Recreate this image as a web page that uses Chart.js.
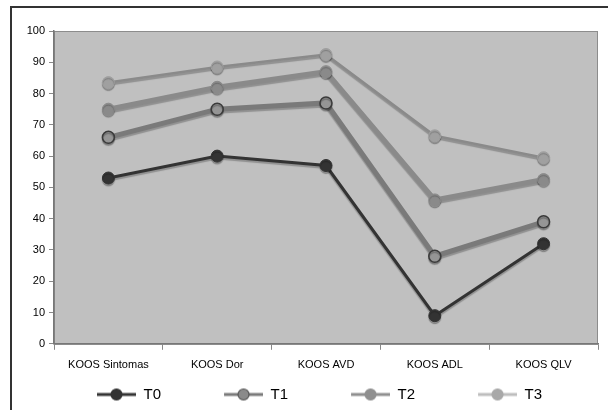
<!DOCTYPE html>
<html>
<head>
<meta charset="utf-8">
<script src="https://cdn.jsdelivr.net/npm/chart.js@4"></script>
<style>
html,body{margin:0;padding:0;background:#fff;}
#wrap{width:608px;height:410px;}
</style>
</head>
<body>
<div id="wrap"><canvas id="c" width="608" height="410"></canvas></div>
<script>
const categories = ['KOOS Sintomas', 'KOOS Dor', 'KOOS AVD', 'KOOS ADL', 'KOOS QLV'];
const seriesNames = ['T0', 'T1', 'T2', 'T3'];
const t0 = [53, 60, 57, 9, 32];
const t1 = [66, 75, 77, 28, 39];
const t2 = [75, 82, 87, 46, 52.5];
const t3 = [83.5, 88.5, 92.5, 66.5, 59.5];
const yTicks = [0, 10, 20, 30, 40, 50, 60, 70, 80, 90, 100];

const styles = [
  {line:'#333333', fill:'#333333', border:'#333333', bw:1, lw:3, legLine:'#333333', legFill:'#333333', legBorder:'#333333'},
  {line:'#7a7a7a', fill:'#959595', border:'#3a3a3a', bw:1.5, lw:5, legLine:'#7a7a7a', legFill:'#8a8a8a', legBorder:'#555555'},
  {line:'#8a8a8a', fill:'#8a8a8a', border:'#8a8a8a', bw:1, lw:5, legLine:'#8f8f8f', legFill:'#8f8f8f', legBorder:'#8f8f8f'},
  {line:'#8a8a8a', fill:'#a0a0a0', border:'#a0a0a0', bw:1, lw:2.5, legLine:'#bdbdbd', legFill:'#a8a8a8', legBorder:'#a8a8a8'}
];
const values = [t0, t1, t2, t3];

const BOXW = 96;
const LEGPAD = 6;
function legendIcon(s){
  const c = document.createElement('canvas');
  c.width = BOXW; c.height = 14;
  const x = c.getContext('2d');
  const x0 = BOXW - 39;
  x.strokeStyle = s.legLine; x.lineWidth = 3;
  x.beginPath(); x.moveTo(x0,7); x.lineTo(BOXW,7); x.stroke();
  x.fillStyle = s.legFill; x.strokeStyle = s.legBorder; x.lineWidth = 1.2;
  x.beginPath(); x.arc(x0+19.5,7,5.5,0,Math.PI*2); x.fill(); x.stroke();
  return c;
}
const icons = styles.map(legendIcon);

const bgPlugin = {
  id:'bg',
  afterLayout(chart){
    if (chart.legend) { chart.legend.left = 97 - LEGPAD - BOXW + 39; }
  },
  beforeDraw(chart){
    const {ctx, chartArea:a} = chart;
    ctx.save();
    ctx.fillStyle = '#c0c0c0';
    ctx.fillRect(a.left, a.top, a.right-a.left, a.bottom-a.top);
    ctx.strokeStyle = '#8c8c8c'; ctx.lineWidth = 1;
    ctx.strokeRect(a.left+0.5, a.top+0.5, a.right-a.left-1, a.bottom-a.top);
    ctx.strokeStyle = '#333'; ctx.lineWidth = 2;
    ctx.strokeRect(11, 7, 620, 440);
    ctx.restore();
  },
  beforeDatasetsDraw(chart){
    const ctx = chart.ctx;
    ctx.save();
    ctx.shadowColor = 'rgba(0,0,0,0.25)';
    ctx.shadowOffsetX = 0;
    ctx.shadowOffsetY = 2;
    ctx.shadowBlur = 1;
  },
  afterDatasetsDraw(chart){ chart.ctx.restore(); }
};

new Chart(document.getElementById('c'), {
  type:'line',
  data:{
    labels: categories,
    datasets: seriesNames.map((n,i)=>({
      label:n,
      data: values[i],
      borderColor: styles[i].line,
      backgroundColor: styles[i].fill,
      borderWidth: styles[i].lw,
      pointRadius: 6,
      pointHoverRadius: 6,
      pointBackgroundColor: styles[i].fill,
      pointBorderColor: styles[i].border,
      pointBorderWidth: styles[i].bw,
      tension: 0,
      fill:false
    }))
  },
  options:{
    responsive:false,
    animation:false,
    devicePixelRatio:1,
    layout:{padding:{left:26, right:10, top:31, bottom:-2}},
    plugins:{
      tooltip:{enabled:false},
      legend:{
        position:'bottom',
        align:'start',
        labels:{
          usePointStyle:true,
          pointStyleWidth:BOXW,
          padding:LEGPAD,
          color:'#000',
          font:{family:'Liberation Sans, Arial', size:15},
          generateLabels(chart){
            return seriesNames.map((n,i)=>({
              text:n, pointStyle: icons[i], fillStyle: styles[i].legFill,
              strokeStyle: styles[i].legLine, lineWidth:0, hidden:false, datasetIndex:i
            }));
          }
        }
      }
    },
    scales:{
      x:{
        offset:true,
        grid:{display:true, drawOnChartArea:false, offset:true, tickLength:6, color:'#888'},
        border:{color:'#777', width:1.5},
        ticks:{color:'#000', font:{family:'Liberation Sans, Arial', size:11}, padding:9, maxRotation:0}
      },
      y:{
        min:0, max:100,
        afterBuildTicks(axis){ axis.ticks = yTicks.map(v=>({value:v})); },
        afterFit(axis){ axis.width = 28; },
        grid:{display:true, drawOnChartArea:false, tickLength:5, color:'#888'},
        border:{color:'#777', width:1.5},
        ticks:{color:'#000', font:{family:'Liberation Sans, Arial', size:11}, padding:4}
      }
    }
  },
  plugins:[bgPlugin]
});
</script>
</body>
</html>
